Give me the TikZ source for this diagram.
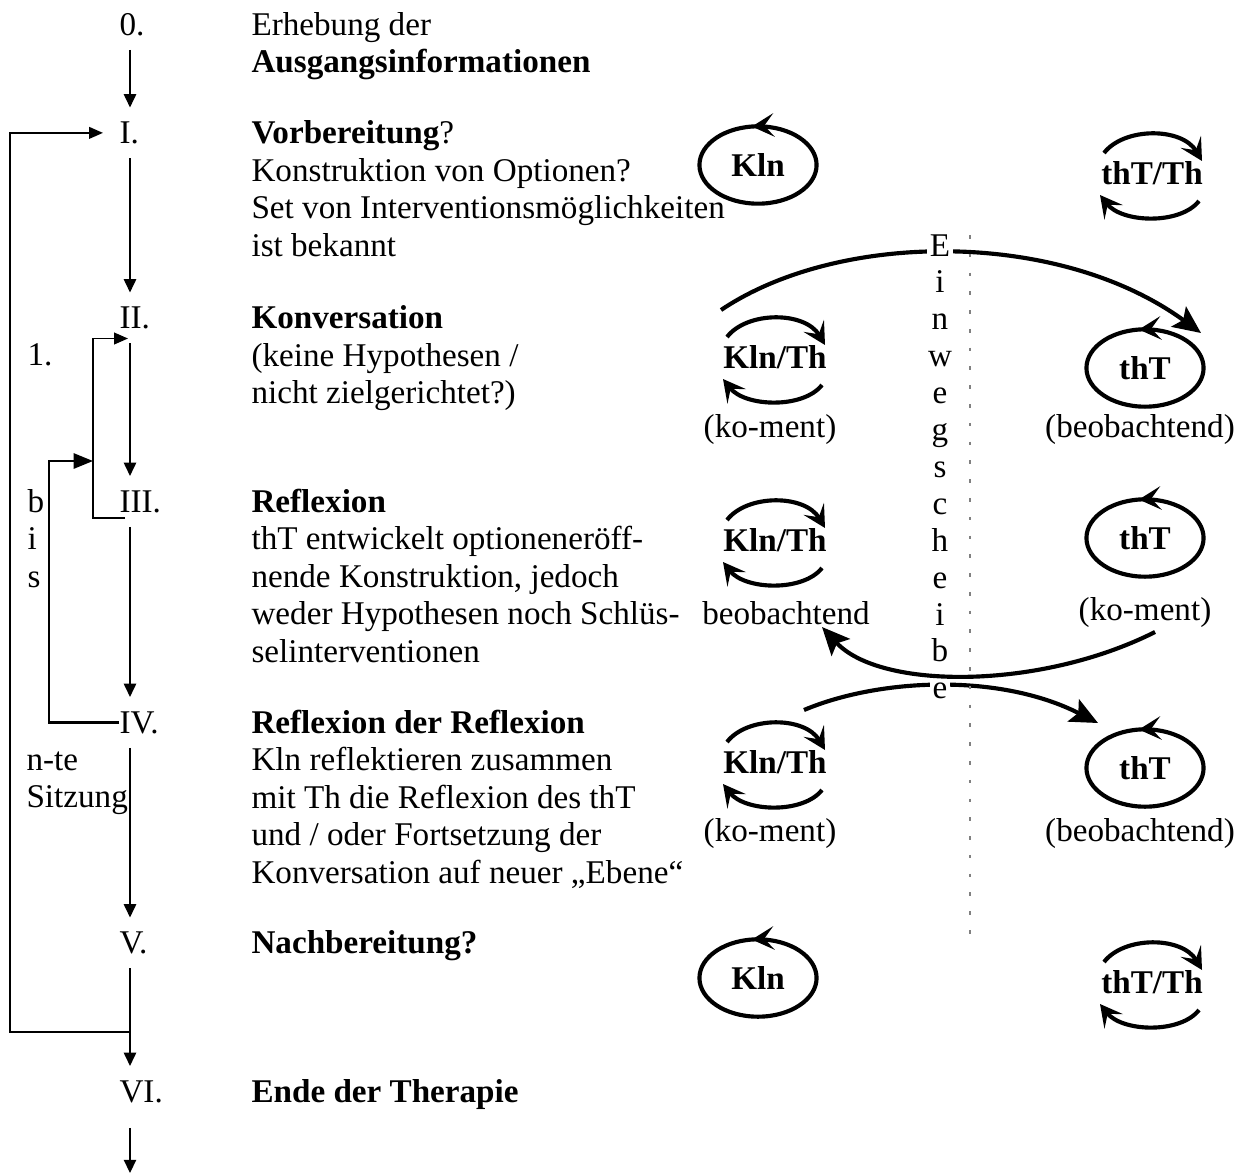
\documentclass[12pt,tikz,border=0pt]{standalone}
\usepackage{fontspec}
\setmainfont{Liberation Serif}
\linespread{0.938}
\usetikzlibrary{arrows.meta,shapes.geometric,decorations.markings}

\tikzset{
    swaparrows/.pic={
        \draw[loopline] (-48,-20) .. controls (-28,-46) and (30,-46) .. (50,-12);
        \draw[loopline] (47,28) .. controls (28,52) and (-30,50) .. (-52,22);
    }
}

\begin{document}
\begin{tikzpicture}[
    x=0.362pt, y=-0.362pt,
    num/.style={anchor=base west, inner xsep=0pt, inner ysep=5pt},
    % mehrzeilige Texte: Basislinie der letzten Zeile
    stage/.style={anchor=base west, inner sep=0pt, align=left},
    flow/.style={line width=0.45pt, -{Triangle[length=4.8pt, width=4.5pt]}},
    back/.style={line width=0.65pt, -{Triangle[length=5pt, width=4.2pt]}},
    backwide/.style={line width=0.8pt, -{Triangle[length=7pt, width=5.5pt]}},
    loopline/.style={line width=1.5pt, -{Stealth[length=8pt, width=8.5pt, inset=3.5pt]}},
    person/.style={
        ellipse, draw, line width=1.5pt,
        minimum width=42.4pt, minimum height=28pt,
        inner sep=0pt, font=\bfseries,
        postaction={decorate, decoration={markings,
            mark=at position 0.27 with {\arrow{Stealth[length=8pt, width=8.5pt, inset=3.5pt]}}}}
    },
    pair/.style={inner sep=0pt, font=\bfseries},
    note/.style={inner sep=0pt},
    mirror/.style={line width=1.5pt, -{Stealth[length=10pt, width=9pt, inset=2pt]}},
    letter/.style={anchor=base, fill=white, inner sep=1pt},
    divider/.style={gray, line width=0.4pt, dash pattern=on 1.3pt off 5.5pt}
]
    \useasboundingbox (0,0) rectangle (1239,1174);

    % Phasen
    \coordinate (axis) at (130,0);
    \node[num] (n0) at (119,35) {0.};
    \node[stage] (s0) at (251,72.6) {Erhebung der\\\textbf{Ausgangsinformationen}};
    \node[num] (n1) at (119,143.5) {I.};
    \node[stage] (s1) at (251,256.3) {\textbf{Vorbereitung}?\\Konstruktion von Optionen?\\Set von Interventionsmöglichkeiten\\ist bekannt};
    \node[num] (n2) at (119,328.5) {II.};
    \node[stage] (s2) at (251,403.7) {\textbf{Konversation}\\(keine Hypothesen /\\nicht zielgerichtet?)};
    \node[num] (n3) at (119,512) {III.};
    \node[stage] (s3) at (251,662.4) {\textbf{Reflexion}\\thT entwickelt optioneneröff-\\nende Konstruktion, jedoch\\weder Hypothesen noch Schlüs-\\selinterventionen};
    \node[num] (n4) at (119,733) {IV.};
    \node[stage] (s4) at (251,883.4) {\textbf{Reflexion der Reflexion}\\Kln reflektieren zusammen\\mit Th die Reflexion des thT\\und / oder Fortsetzung der\\Konversation auf neuer „Ebene“};
    \node[num] (n5) at (119,953.5) {V.};
    \node[stage] (s5) at (251,953.5) {\textbf{Nachbereitung?}};
    \node[num] (n6) at (119,1102) {VI.};
    \node[stage] (s6) at (251,1102) {\textbf{Ende der Therapie}};

    % Sitzungen
    \node[stage] (one) at (27,365) {1.};
    \node[stage] (bis) at (27,587.2) {b\\i\\s};
    \node[stage] (nte) at (26,807.6) {n-te\\Sitzung};

    % Ablauf
    \coordinate (out) at (130,1173);
    \draw[flow] (n0.south -| axis) -- (n1.north -| axis);
    \draw[flow] (n1.south -| axis) -- (n2.north -| axis);
    \draw[flow] (n2.south -| axis) -- (n3.north -| axis);
    \draw[flow] (n3.south -| axis) -- (n4.north -| axis);
    \draw[flow] (n4.south -| axis) -- (n5.north -| axis);
    \draw[flow] (n5.south -| axis) -- (n6.north -| axis);
    \draw[flow, shorten <=4pt] (n6.south -| axis) -- (out);

    % Rueckkopplungen
    \coordinate (ret) at (130,1032);
    \coordinate (join) at (93,461);
    \draw[back, shorten >=5.8pt] (ret) -- ++(-120,0) |- (n1.west);
    \draw[back] ([shift={(6,6)}]n3.base west) -- ++(-32,0) |- ([shift={(9,10)}]n2.base west);
    \draw[backwide] (n4.west) -- ++(-70,0) |- (join);

    % Systeme
    \node[person] (kln1) at (758,165) {Kln};
    \node[pair] (tt1) at (1152,173) {thT/Th};
    \pic at (tt1) {swaparrows};

    \node[pair] (kt2) at (775,357) {Kln/Th};
    \pic at (kt2) {swaparrows};
    \node[note] (km2) at (770,430) {(ko-ment)};
    \node[person] (tt2) at (1145,368) {thT};
    \node[note] (bb2) at (1140,430) {(beobachtend)};

    \node[pair] (kt3) at (775,540) {Kln/Th};
    \pic at (kt3) {swaparrows};
    \node[note] (bb3) at (786,613) {beobachtend};
    \node[person] (tt3) at (1145,538) {thT};
    \node[note] (km3) at (1145,613) {(ko-ment)};

    \node[pair] (kt4) at (775,762) {Kln/Th};
    \pic at (kt4) {swaparrows};
    \node[note] (km4) at (770,834) {(ko-ment)};
    \node[person] (tt4) at (1145,768) {thT};
    \node[note] (bb4) at (1140,834) {(beobachtend)};

    \node[person] (kln5) at (758,978) {Kln};
    \node[pair] (tt5) at (1152,982) {thT/Th};
    \pic at (tt5) {swaparrows};

    % Wechsel der Perspektive
    \draw[mirror] ([shift={(-54,-47)}]kt2.center) .. controls (840,230) and (1060,230) .. ([shift={(56,-35)}]tt2.center);
    \draw[mirror] ([shift={(10,19)}]km3.center) .. controls (1040,690) and (880,690) .. ([shift={(36,14)}]bb3.center);
    \draw[mirror] ([shift={(29,-52)}]kt4.center) .. controls (880,678) and (1000,673) .. ([shift={(-47,-45)}]tt4.center);

    % Einwegscheibe
    \draw[divider] (970,235) -- (970,945);
    \foreach \ch [count=\i] in {E,i,n,w,e,g,s,c,h,e,i,b,e}
        \node[letter] (ew\i) at (940,{256+36.9*(\i-1)}) {\ch};
\end{tikzpicture}
\end{document}
